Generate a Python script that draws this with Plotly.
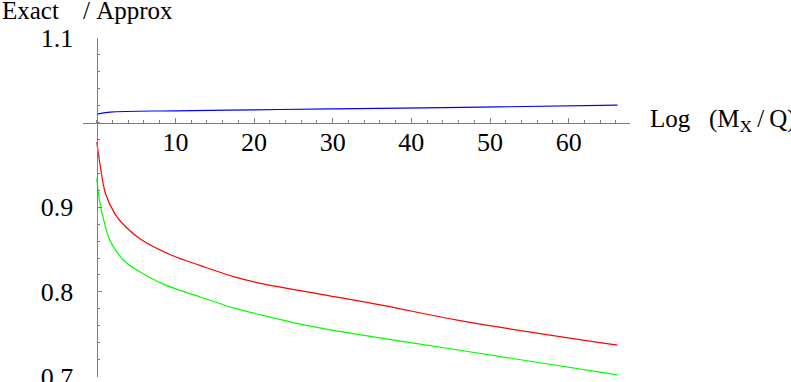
"""
Exact / Approx ratio vs Log(M_X/Q), Mathematica-style plot
"""

import plotly.graph_objects as go

# Curve data
x_blue = [0, 1.7, 10, 20, 30, 49, 66.2]
y_blue = [1.0100, 1.0125, 1.0140, 1.0151, 1.0163, 1.0183, 1.0207]

x_red = [0, 0.49, 1.12, 2.39, 3.66, 5.78, 9.6, 13.2, 17.4, 20.8, 28.0, 36.4, 46.2, 66.2]
y_red = [0.977, 0.946, 0.916, 0.891, 0.877, 0.861, 0.843, 0.831, 0.818, 0.810,
         0.798, 0.784, 0.766, 0.737]

x_green = [0, 0.38, 0.94, 1.57, 2.41, 3.68, 5.8, 8.76, 13.2, 17.4, 20.8, 28.0, 36.4, 46.2, 66.2]
y_green = [0.934, 0.906, 0.883, 0.863, 0.849, 0.835, 0.822, 0.808, 0.794, 0.781,
           0.773, 0.758, 0.745, 0.731, 0.702]

x_ticks = [10, 20, 30, 40, 50, 60]
y_ticks = [0.7, 0.8, 0.9, 1.1]

W, H = 791, 382
FONT = 'Liberation Serif, Times New Roman, serif'
AXIS = '#808080'

fig = go.Figure()

for xs, ys, col in [(x_blue, y_blue, '#0000ff'),
                    (x_red, y_red, '#ff0000'),
                    (x_green, y_green, '#00ff00')]:
    fig.add_trace(go.Scatter(
        x=xs, y=ys, mode='lines',
        line=dict(color=col, width=1.2, shape='spline', smoothing=1.0),
        showlegend=False, hoverinfo='skip'
    ))

fig.update_xaxes(
    domain=[83 / W, 630 / W],
    range=[-1.75, 67.8],
    anchor='free', position=1 - 122.5 / H,
    automargin=False,
    showline=True, linecolor=AXIS, linewidth=1,
    showgrid=False, zeroline=False,
    tickvals=x_ticks, ticks='inside', ticklen=5, tickcolor=AXIS, tickwidth=1,
    minor=dict(dtick=2, tick0=0, ticks='inside', ticklen=3, tickcolor=AXIS, showgrid=False),
    tickfont=dict(family=FONT, size=26, color='black'),
    ticklabelstandoff=-4,
)

fig.update_yaxes(
    domain=[(H - 376.5) / H, (H - 38) / H],
    range=[0.7, 1.1],
    anchor='free', position=96.5 / W,
    automargin=False,
    showline=True, linecolor=AXIS, linewidth=1,
    showgrid=False, zeroline=False,
    tickvals=y_ticks, ticktext=['0.7', '0.8', '0.9', '1.1'],
    ticks='inside', ticklen=4, tickcolor=AXIS, tickwidth=1,
    minor=dict(dtick=0.02, tick0=0.7, ticks='inside', ticklen=2.5, tickcolor=AXIS, showgrid=False),
    tickfont=dict(family=FONT, size=26, color='black'),
    ticklabelstandoff=18,
    ticklabeloverflow='allow',
)

label_font = dict(family=FONT, size=25, color='black')
fig.add_annotation(x=0, y=1 - 11 / H, xref='paper', yref='paper',
                   text='Exact', showarrow=False, xanchor='left', yanchor='middle',
                   font=label_font)
fig.add_annotation(x=81 / W, y=1 - 11 / H, xref='paper', yref='paper',
                   text='/&nbsp;Approx', showarrow=False, xanchor='left', yanchor='middle',
                   font=label_font)
fig.add_annotation(x=648 / W, y=1 - 120 / H, xref='paper', yref='paper',
                   text='Log&nbsp;&nbsp;&nbsp;(M<sub>X</sub>&#8201;/&#8201;Q)', showarrow=False,
                   xanchor='left', yanchor='middle', font=label_font)

fig.update_layout(
    width=W, height=H, autosize=False,
    margin=dict(l=0, r=0, t=0, b=0, pad=0),
    plot_bgcolor='white', paper_bgcolor='white',
    font=dict(family=FONT, color='black'),
)

# drop the browser's default 8px body margin so the figure sits at the window corner
fig.write_html('out.html', config={'displayModeBar': False},
               post_script="document.body.style.margin='0';")
